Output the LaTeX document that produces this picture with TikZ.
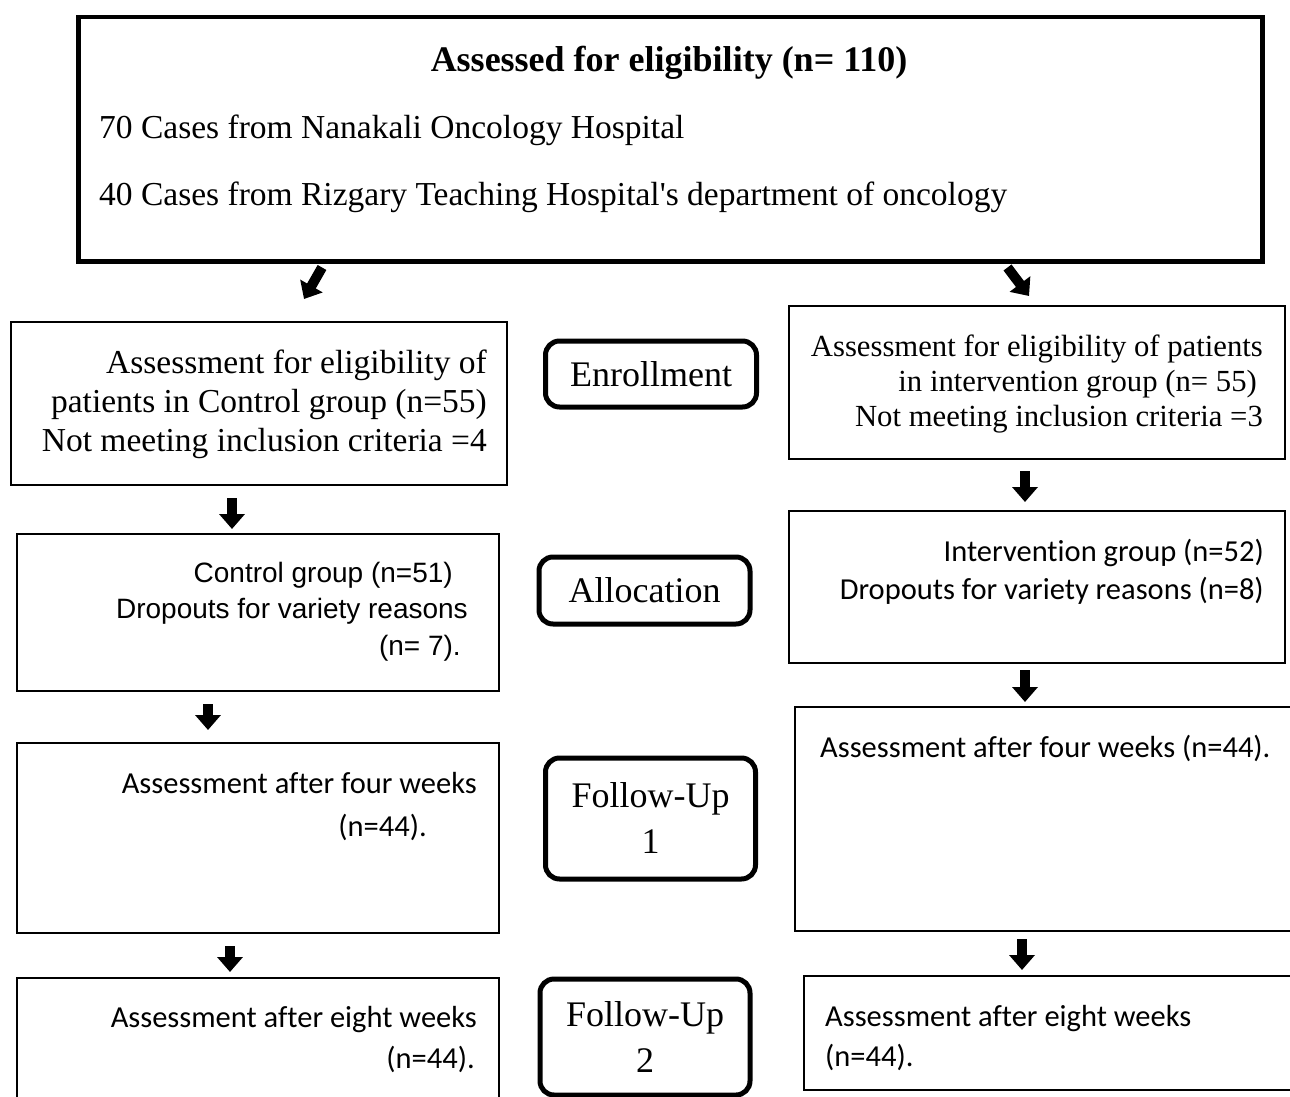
\documentclass[tikz,border=0pt]{standalone}
\usepackage{fontspec}
\setmainfont{Liberation Serif}
\newfontfamily\calibf[Ligatures=NoCommon]{Carlito}
\newfontfamily\arialf{Liberation Sans}
\usetikzlibrary{arrows.meta,calc}
\begin{document}
\begin{tikzpicture}[x=1pt,y=-1pt,
  box/.style={draw, line width=2pt, inner sep=0pt, anchor=north west},
  topbox/.style={draw, line width=4.5pt, inner sep=0pt, anchor=north west},
  stage/.style={draw, line width=5pt, rounded corners=14pt, inner sep=0pt, anchor=north west, align=center, font=\fontsize{36}{46}\selectfont},
  serA/.style={inner sep=0pt, font=\fontsize{33.5}{40}\selectfont},
  serT/.style={inner sep=0pt, font=\bfseries\fontsize{36}{40}\selectfont},
  serB/.style={inner sep=0pt, font=\fontsize{30.7}{36}\selectfont},
  ari/.style={inner sep=0pt, font=\arialf\fontsize{28}{34}\selectfont},
  cal/.style={inner sep=0pt, font=\calibf\fontsize{30.5}{36}\selectfont},
  blk/.style={line width=10pt, -{Triangle[width=25pt,length=15pt]}}]
\useasboundingbox (0,0) rectangle (1290,1097);
\clip (0,0) rectangle (1290,1097);
\fill[white] (0,0) rectangle (1290,1097);

% boxes
\node[topbox, minimum width=1184pt, minimum height=244pt] (top) at (76,15) {};
\node[box, minimum width=496pt, minimum height=163pt] (L1) at (10,321) {};
\node[box, minimum width=496pt, minimum height=153pt] (R1) at (788,305) {};
\node[box, minimum width=482pt, minimum height=157pt] (L2) at (16,533) {};
\node[box, minimum width=496pt, minimum height=152pt] (R2) at (788,510) {};
\node[box, minimum width=482pt, minimum height=190pt] (L3) at (16,742) {};
\node[box, minimum width=530pt, minimum height=224pt] (R3) at (794,706) {};
\node[box, minimum width=482pt, minimum height=160pt] (L4) at (16,977) {};
\node[box, minimum width=530pt, minimum height=114pt] (R4) at (803,975) {};

% stage boxes
\node[stage, minimum width=211pt, minimum height=66pt] (S1) at (543,338.5) {Enrollment};
\node[stage, minimum width=211pt, minimum height=67pt] (S2) at (536.5,554.5) {Allocation};
\node[stage, minimum width=210pt, minimum height=121pt] (S3) at (543,755.5) {Follow-Up\\1};
\node[stage, minimum width=210pt, minimum height=116pt] (S4) at (537.5,976.5) {Follow-Up\\2};

% top box text
\node[serT, anchor=base] (t0) at (669,72) {Assessed for eligibility (n= 110)};
\node[serA, anchor=base west] (t1) at (99,139) {70 Cases from Nanakali Oncology Hospital};
\node[serA, anchor=base west] (t2) at (99,205) {40 Cases from Rizgary Teaching Hospital\textquotesingle s department of oncology};

% L1 text
\node[serA, anchor=base east] (l1a) at (487,373) {Assessment for eligibility of};
\node[serA, anchor=base east] (l1b) at (487,412) {patients in Control group (n=55)};
\node[serA, anchor=base east] (l1c) at (487,451) {Not meeting inclusion criteria =4};

% R1 text
\node[serB, anchor=base east] (r1a) at (1263,356) {Assessment for eligibility of patients};
\node[serB, anchor=base east] (r1b) at (1257,391) {in intervention group (n= 55)};
\node[serB, anchor=base east] (r1c) at (1263,426) {Not meeting inclusion criteria =3};

% L2 text
\node[ari, anchor=base east] (l2a) at (453,582) {Control group (n=51)};
\node[ari, anchor=base east] (l2b) at (468,618) {Dropouts for variety reasons};
\node[ari, anchor=base east] (l2c) at (461,655) {(n= 7).};

% R2 text
\node[cal, anchor=base east] (r2a) at (1264,561) {Intervention group (n=52)};
\node[cal, anchor=base east] (r2b) at (1264,599) {Dropouts for variety reasons (n=8)};

% L3 / R3 text
\node[cal, anchor=base east] (l3a) at (477,793) {Assessment after four weeks};
\node[cal, anchor=base east] (l3b) at (427,836) {(n=44).};
\node[cal, anchor=base west] (r3a) at (820,757) {Assessment after four weeks (n=44).};

% L4 / R4 text
\node[cal, anchor=base east] (l4a) at (477,1027) {Assessment after eight weeks};
\node[cal, anchor=base east] (l4b) at (475,1068) {(n=44).};
\node[cal, anchor=base west] (r4a) at (825,1026) {Assessment after eight weeks};
\node[cal, anchor=base west] (r4b) at (825,1066) {(n=44).};

% arrows
\draw[blk] ($(top.south west)+(246,4)$) -- ($(L1.north west)+(294,-22)$);
\draw[blk] ($(top.south east)+(-257,4)$) -- ($(R1.north west)+(241,-9)$);
\draw[blk] ($(L1.south west)+(222,12)$) -- ($(L2.north west)+(216,-4)$);
\draw[blk] ($(R1.south west)+(237,11)$) -- ($(R2.north west)+(237,-8)$);
\draw[blk] ($(L2.south west)+(192,12)$) -- ($(L3.north west)+(192,-12)$);
\draw[blk] ($(R2.south west)+(237,6)$) -- ($(R3.north west)+(231,-4)$);
\draw[blk] ($(L3.south west)+(214,12)$) -- ($(L4.north west)+(214,-5)$);
\draw[blk] ($(R3.south west)+(228,7)$) -- ($(R4.north west)+(219,-5)$);
\end{tikzpicture}
\end{document}
